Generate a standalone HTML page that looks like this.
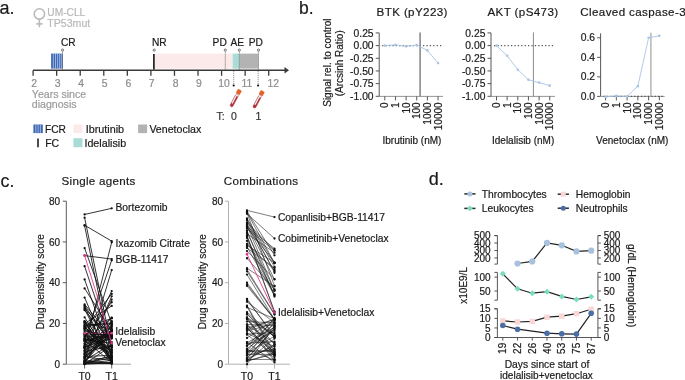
<!DOCTYPE html>
<html><head><meta charset="utf-8"><style>
html,body{margin:0;padding:0;background:#fff;}
body{width:685px;height:380px;overflow:hidden;}
svg{display:block;font-family:"Liberation Sans", sans-serif;will-change:transform;} text{stroke-linejoin:round;}
</style></head><body>
<svg width="685" height="380" viewBox="0 0 685 380">

<text x="-0.40" y="14.00" font-size="18" fill="#1a1a1a" text-anchor="start" stroke="#1a1a1a" stroke-width="0.2" >a.</text><circle cx="39.4" cy="13.9" r="5.2" fill="none" stroke="#b9b9b9" stroke-width="1.6"/><line x1="39.40" y1="19.10" x2="39.40" y2="27.20" stroke="#b9b9b9" stroke-width="1.6" /><line x1="36.20" y1="23.90" x2="42.60" y2="23.90" stroke="#b9b9b9" stroke-width="1.6" /><text x="47.30" y="16.40" font-size="10.2" fill="#b8b8b8" text-anchor="start" stroke="#b8b8b8" stroke-width="0.2" >UM-CLL</text><text x="47.30" y="26.90" font-size="10.6" fill="#b8b8b8" text-anchor="start" stroke="#b8b8b8" stroke-width="0.2" >TP53mut</text><rect x="51.1" y="53.6" width="11.6" height="15.0" fill="#3c67b5"/><line x1="53.30" y1="53.60" x2="53.30" y2="68.60" stroke="#dfe7f5" stroke-width="0.6" /><line x1="55.50" y1="53.60" x2="55.50" y2="68.60" stroke="#dfe7f5" stroke-width="0.6" /><line x1="57.60" y1="53.60" x2="57.60" y2="68.60" stroke="#dfe7f5" stroke-width="0.6" /><line x1="59.60" y1="53.60" x2="59.60" y2="68.60" stroke="#dfe7f5" stroke-width="0.6" /><line x1="61.30" y1="53.60" x2="61.30" y2="68.60" stroke="#dfe7f5" stroke-width="0.6" /><rect x="155" y="53.6" width="77.6" height="15.0" fill="#fce9e9"/><rect x="232.6" y="53.6" width="6.9" height="15.0" fill="#a9dcd6"/><rect x="239.5" y="53.6" width="18.9" height="15.0" fill="#b3b3b3"/><line x1="153.90" y1="53.90" x2="153.90" y2="69.50" stroke="#111" stroke-width="1.6" /><line x1="33.10" y1="70.20" x2="286.00" y2="70.20" stroke="#3a3a3a" stroke-width="1.5" /><path d="M284.5 67.0 L289 70.2 L284.5 73.4 Z" fill="#3a3a3a"/><line x1="33.10" y1="70.20" x2="33.10" y2="75.80" stroke="#3a3a3a" stroke-width="1.3" /><text x="34.20" y="86.80" font-size="10.4" fill="#8c8c8c" text-anchor="middle" stroke="#8c8c8c" stroke-width="0.2" >2</text><line x1="56.66" y1="70.20" x2="56.66" y2="75.80" stroke="#3a3a3a" stroke-width="1.3" /><text x="57.70" y="86.80" font-size="10.4" fill="#8c8c8c" text-anchor="middle" stroke="#8c8c8c" stroke-width="0.2" >3</text><line x1="80.22" y1="70.20" x2="80.22" y2="75.80" stroke="#3a3a3a" stroke-width="1.3" /><text x="81.10" y="86.80" font-size="10.4" fill="#8c8c8c" text-anchor="middle" stroke="#8c8c8c" stroke-width="0.2" >4</text><line x1="103.78" y1="70.20" x2="103.78" y2="75.80" stroke="#3a3a3a" stroke-width="1.3" /><text x="104.70" y="86.80" font-size="10.4" fill="#8c8c8c" text-anchor="middle" stroke="#8c8c8c" stroke-width="0.2" >5</text><line x1="127.34" y1="70.20" x2="127.34" y2="75.80" stroke="#3a3a3a" stroke-width="1.3" /><text x="128.30" y="86.80" font-size="10.4" fill="#8c8c8c" text-anchor="middle" stroke="#8c8c8c" stroke-width="0.2" >6</text><line x1="150.90" y1="70.20" x2="150.90" y2="75.80" stroke="#3a3a3a" stroke-width="1.3" /><text x="151.60" y="86.80" font-size="10.4" fill="#8c8c8c" text-anchor="middle" stroke="#8c8c8c" stroke-width="0.2" >7</text><line x1="174.46" y1="70.20" x2="174.46" y2="75.80" stroke="#3a3a3a" stroke-width="1.3" /><text x="175.70" y="86.80" font-size="10.4" fill="#8c8c8c" text-anchor="middle" stroke="#8c8c8c" stroke-width="0.2" >8</text><line x1="198.02" y1="70.20" x2="198.02" y2="75.80" stroke="#3a3a3a" stroke-width="1.3" /><text x="199.00" y="86.80" font-size="10.4" fill="#8c8c8c" text-anchor="middle" stroke="#8c8c8c" stroke-width="0.2" >9</text><line x1="221.58" y1="70.20" x2="221.58" y2="75.80" stroke="#3a3a3a" stroke-width="1.3" /><text x="224.10" y="86.80" font-size="10.4" fill="#8c8c8c" text-anchor="middle" stroke="#8c8c8c" stroke-width="0.2" >10</text><line x1="245.14" y1="70.20" x2="245.14" y2="75.80" stroke="#3a3a3a" stroke-width="1.3" /><text x="247.00" y="86.80" font-size="10.4" fill="#8c8c8c" text-anchor="middle" stroke="#8c8c8c" stroke-width="0.2" >11</text><line x1="268.70" y1="70.20" x2="268.70" y2="75.80" stroke="#3a3a3a" stroke-width="1.3" /><text x="273.30" y="86.80" font-size="10.4" fill="#8c8c8c" text-anchor="middle" stroke="#8c8c8c" stroke-width="0.2" >12</text><circle cx="62.5" cy="50.1" r="1.1" fill="#fff" stroke="#333" stroke-width="0.65"/><line x1="62.50" y1="51.60" x2="62.50" y2="70.20" stroke="#333" stroke-width="0.7" stroke-dasharray="1 1"/><circle cx="154.2" cy="50.1" r="1.1" fill="#fff" stroke="#333" stroke-width="0.65"/><circle cx="225.3" cy="50.1" r="1.1" fill="#fff" stroke="#333" stroke-width="0.65"/><line x1="225.30" y1="51.60" x2="225.30" y2="70.20" stroke="#333" stroke-width="0.7" stroke-dasharray="1 1"/><circle cx="239.3" cy="50.1" r="1.1" fill="#fff" stroke="#333" stroke-width="0.65"/><line x1="239.30" y1="51.60" x2="239.30" y2="70.20" stroke="#333" stroke-width="0.7" stroke-dasharray="1 1"/><circle cx="258.5" cy="50.1" r="1.1" fill="#fff" stroke="#333" stroke-width="0.65"/><line x1="258.50" y1="51.60" x2="258.50" y2="70.20" stroke="#333" stroke-width="0.7" stroke-dasharray="1 1"/><text x="60.90" y="46.00" font-size="10.2" fill="#1a1a1a" text-anchor="start" stroke="#1a1a1a" stroke-width="0.2" >CR</text><text x="152.00" y="46.00" font-size="10.2" fill="#1a1a1a" text-anchor="start" stroke="#1a1a1a" stroke-width="0.2" >NR</text><text x="212.60" y="46.00" font-size="10.2" fill="#1a1a1a" text-anchor="start" stroke="#1a1a1a" stroke-width="0.2" >PD</text><text x="230.40" y="46.00" font-size="10.2" fill="#1a1a1a" text-anchor="start" stroke="#1a1a1a" stroke-width="0.2" >AE</text><text x="248.80" y="46.00" font-size="10.2" fill="#1a1a1a" text-anchor="start" stroke="#1a1a1a" stroke-width="0.2" >PD</text><line x1="233.70" y1="71.20" x2="233.70" y2="84.50" stroke="#444" stroke-width="0.7" stroke-dasharray="1 1"/><circle cx="233.7" cy="85.5" r="1.1" fill="#111"/><line x1="258.10" y1="71.20" x2="258.10" y2="84.50" stroke="#444" stroke-width="0.7" stroke-dasharray="1 1"/><circle cx="258.1" cy="85.5" r="1.1" fill="#111"/><text x="31.80" y="97.90" font-size="10.6" fill="#9a9a9a" text-anchor="start" stroke="#9a9a9a" stroke-width="0.2" >Years since</text><text x="31.80" y="107.90" font-size="10.6" fill="#9a9a9a" text-anchor="start" stroke="#9a9a9a" stroke-width="0.2" >diagnosis</text><g transform="translate(231.0,106.6) rotate(28)"><rect x="-1.45" y="-14" width="2.9" height="14" rx="1.45" fill="#f7f4f4" stroke="#a8282e" stroke-width="0.55"/><path d="M0.1 -12 L1.4 -12 L1.4 -1.4 A1.4 1.4 0 0 1 -1.4 -1.4 L-1.4 -3.2 L0.1 -3.2 Z" fill="#b3303a"/><rect x="-1.6" y="-14.6" width="3.2" height="1.2" fill="#d8d0d0"/><rect x="-2.2" y="-19.0" width="4.4" height="4.8" rx="0.7" fill="#e3632a"/></g><g transform="translate(253.9,107.8) rotate(28)"><rect x="-1.45" y="-14" width="2.9" height="14" rx="1.45" fill="#f7f4f4" stroke="#a8282e" stroke-width="0.55"/><path d="M0.1 -12 L1.4 -12 L1.4 -1.4 A1.4 1.4 0 0 1 -1.4 -1.4 L-1.4 -3.2 L0.1 -3.2 Z" fill="#b3303a"/><rect x="-1.6" y="-14.6" width="3.2" height="1.2" fill="#d8d0d0"/><rect x="-2.2" y="-19.0" width="4.4" height="4.8" rx="0.7" fill="#e3632a"/></g><text x="216.50" y="119.60" font-size="10.5" fill="#333" text-anchor="start" stroke="#333" stroke-width="0.2" >T:</text><text x="231.00" y="119.60" font-size="10.5" fill="#333" text-anchor="start" stroke="#333" stroke-width="0.2" >0</text><text x="255.60" y="119.60" font-size="10.5" fill="#333" text-anchor="start" stroke="#333" stroke-width="0.2" >1</text><rect x="33.4" y="124.5" width="9.4" height="8.6" fill="#3c67b5"/><line x1="35.80" y1="124.50" x2="35.80" y2="133.10" stroke="#dfe7f5" stroke-width="0.6" /><line x1="38.10" y1="124.50" x2="38.10" y2="133.10" stroke="#dfe7f5" stroke-width="0.6" /><line x1="40.40" y1="124.50" x2="40.40" y2="133.10" stroke="#dfe7f5" stroke-width="0.6" /><text x="45.00" y="132.60" font-size="10.2" fill="#1a1a1a" text-anchor="start" stroke="#1a1a1a" stroke-width="0.2" >FCR</text><rect x="73.4" y="124.5" width="9" height="8.6" fill="#fce9e9"/><text x="85.70" y="132.60" font-size="10.8" fill="#1a1a1a" text-anchor="start" stroke="#1a1a1a" stroke-width="0.2" >Ibrutinib</text><rect x="138.1" y="124.5" width="9" height="8.6" fill="#b3b3b3"/><text x="149.40" y="132.60" font-size="10.6" fill="#1a1a1a" text-anchor="start" stroke="#1a1a1a" stroke-width="0.2" >Venetoclax</text><line x1="38.00" y1="138.50" x2="38.00" y2="147.30" stroke="#111" stroke-width="1.5" /><text x="45.20" y="146.80" font-size="10.5" fill="#1a1a1a" text-anchor="start" stroke="#1a1a1a" stroke-width="0.2" >FC</text><rect x="73.4" y="138.2" width="9" height="9" fill="#a9dcd6"/><text x="84.40" y="146.80" font-size="10.75" fill="#1a1a1a" text-anchor="start" stroke="#1a1a1a" stroke-width="0.2" >Idelalisib</text><text x="299.00" y="14.00" font-size="17.5" fill="#1a1a1a" text-anchor="start" stroke="#1a1a1a" stroke-width="0.2" >b.</text><line x1="379.20" y1="32.90" x2="379.20" y2="96.40" stroke="#444" stroke-width="0.9" /><line x1="375.70" y1="32.92" x2="379.20" y2="32.92" stroke="#444" stroke-width="0.9" /><text x="373.60" y="36.52" font-size="10.3" fill="#1a1a1a" text-anchor="end" stroke="#1a1a1a" stroke-width="0.2" >0.25</text><line x1="375.70" y1="45.60" x2="379.20" y2="45.60" stroke="#444" stroke-width="0.9" /><text x="373.60" y="49.20" font-size="10.3" fill="#1a1a1a" text-anchor="end" stroke="#1a1a1a" stroke-width="0.2" >0.00</text><line x1="375.70" y1="58.28" x2="379.20" y2="58.28" stroke="#444" stroke-width="0.9" /><text x="373.60" y="61.88" font-size="10.3" fill="#1a1a1a" text-anchor="end" stroke="#1a1a1a" stroke-width="0.2" >-0.25</text><line x1="375.70" y1="70.95" x2="379.20" y2="70.95" stroke="#444" stroke-width="0.9" /><text x="373.60" y="74.55" font-size="10.3" fill="#1a1a1a" text-anchor="end" stroke="#1a1a1a" stroke-width="0.2" >-0.50</text><line x1="375.70" y1="83.62" x2="379.20" y2="83.62" stroke="#444" stroke-width="0.9" /><text x="373.60" y="87.22" font-size="10.3" fill="#1a1a1a" text-anchor="end" stroke="#1a1a1a" stroke-width="0.2" >-0.75</text><line x1="375.70" y1="96.30" x2="379.20" y2="96.30" stroke="#444" stroke-width="0.9" /><text x="373.60" y="99.90" font-size="10.3" fill="#1a1a1a" text-anchor="end" stroke="#1a1a1a" stroke-width="0.2" >-1.00</text><line x1="379.20" y1="96.40" x2="443.00" y2="96.40" stroke="#8a8a8a" stroke-width="0.9" /><line x1="384.80" y1="96.40" x2="384.80" y2="100.40" stroke="#444" stroke-width="0.9" /><text transform="translate(388.30,102.40) rotate(-90)" font-size="10" fill="#1a1a1a" stroke="#1a1a1a" stroke-width="0.2" text-anchor="end">0</text><line x1="395.45" y1="96.40" x2="395.45" y2="100.40" stroke="#444" stroke-width="0.9" /><text transform="translate(398.95,102.40) rotate(-90)" font-size="10" fill="#1a1a1a" stroke="#1a1a1a" stroke-width="0.2" text-anchor="end">1</text><line x1="406.10" y1="96.40" x2="406.10" y2="100.40" stroke="#444" stroke-width="0.9" /><text transform="translate(409.60,102.40) rotate(-90)" font-size="10" fill="#1a1a1a" stroke="#1a1a1a" stroke-width="0.2" text-anchor="end">10</text><line x1="416.75" y1="96.40" x2="416.75" y2="100.40" stroke="#444" stroke-width="0.9" /><text transform="translate(420.25,102.40) rotate(-90)" font-size="10" fill="#1a1a1a" stroke="#1a1a1a" stroke-width="0.2" text-anchor="end">100</text><line x1="427.40" y1="96.40" x2="427.40" y2="100.40" stroke="#444" stroke-width="0.9" /><text transform="translate(430.90,102.40) rotate(-90)" font-size="10" fill="#1a1a1a" stroke="#1a1a1a" stroke-width="0.2" text-anchor="end">1000</text><line x1="438.05" y1="96.40" x2="438.05" y2="100.40" stroke="#444" stroke-width="0.9" /><text transform="translate(441.55,102.40) rotate(-90)" font-size="10" fill="#1a1a1a" stroke="#1a1a1a" stroke-width="0.2" text-anchor="end">10000</text><line x1="382.20" y1="45.60" x2="442.00" y2="45.60" stroke="#5a5a5a" stroke-width="1.1" stroke-dasharray="1.3 2.1"/><line x1="420.10" y1="32.40" x2="420.10" y2="96.40" stroke="#8c8c8c" stroke-width="1.6" /><path d="M384.80 45.60 L395.45 44.84 L406.10 46.36 L416.75 45.09 L427.40 50.42 L438.05 63.09" fill="none" stroke="#a9c4e4" stroke-width="0.9"/><circle cx="384.80" cy="45.60" r="1.3" fill="#a9c4e4"/><circle cx="395.45" cy="44.84" r="1.3" fill="#a9c4e4"/><circle cx="406.10" cy="46.36" r="1.3" fill="#a9c4e4"/><circle cx="416.75" cy="45.09" r="1.3" fill="#a9c4e4"/><circle cx="427.40" cy="50.42" r="1.3" fill="#a9c4e4"/><circle cx="438.05" cy="63.09" r="1.3" fill="#a9c4e4"/><text x="376.60" y="16.20" font-size="11.6" fill="#1a1a1a" text-anchor="start" stroke="#1a1a1a" stroke-width="0.2" letter-spacing="0.38">BTK (pY223)</text><text x="382.50" y="143.80" font-size="10" fill="#1a1a1a" text-anchor="start" stroke="#1a1a1a" stroke-width="0.2" >Ibrutinib (nM)</text><line x1="491.00" y1="32.90" x2="491.00" y2="96.40" stroke="#444" stroke-width="0.9" /><line x1="487.50" y1="32.92" x2="491.00" y2="32.92" stroke="#444" stroke-width="0.9" /><text x="485.40" y="36.52" font-size="10.3" fill="#1a1a1a" text-anchor="end" stroke="#1a1a1a" stroke-width="0.2" >0.25</text><line x1="487.50" y1="45.60" x2="491.00" y2="45.60" stroke="#444" stroke-width="0.9" /><text x="485.40" y="49.20" font-size="10.3" fill="#1a1a1a" text-anchor="end" stroke="#1a1a1a" stroke-width="0.2" >0.00</text><line x1="487.50" y1="58.28" x2="491.00" y2="58.28" stroke="#444" stroke-width="0.9" /><text x="485.40" y="61.88" font-size="10.3" fill="#1a1a1a" text-anchor="end" stroke="#1a1a1a" stroke-width="0.2" >-0.25</text><line x1="487.50" y1="70.95" x2="491.00" y2="70.95" stroke="#444" stroke-width="0.9" /><text x="485.40" y="74.55" font-size="10.3" fill="#1a1a1a" text-anchor="end" stroke="#1a1a1a" stroke-width="0.2" >-0.50</text><line x1="487.50" y1="83.62" x2="491.00" y2="83.62" stroke="#444" stroke-width="0.9" /><text x="485.40" y="87.22" font-size="10.3" fill="#1a1a1a" text-anchor="end" stroke="#1a1a1a" stroke-width="0.2" >-0.75</text><line x1="487.50" y1="96.30" x2="491.00" y2="96.30" stroke="#444" stroke-width="0.9" /><text x="485.40" y="99.90" font-size="10.3" fill="#1a1a1a" text-anchor="end" stroke="#1a1a1a" stroke-width="0.2" >-1.00</text><line x1="491.00" y1="96.40" x2="555.00" y2="96.40" stroke="#8a8a8a" stroke-width="0.9" /><line x1="496.50" y1="96.40" x2="496.50" y2="100.40" stroke="#444" stroke-width="0.9" /><text transform="translate(500.00,102.40) rotate(-90)" font-size="10" fill="#1a1a1a" stroke="#1a1a1a" stroke-width="0.2" text-anchor="end">0</text><line x1="507.15" y1="96.40" x2="507.15" y2="100.40" stroke="#444" stroke-width="0.9" /><text transform="translate(510.65,102.40) rotate(-90)" font-size="10" fill="#1a1a1a" stroke="#1a1a1a" stroke-width="0.2" text-anchor="end">1</text><line x1="517.80" y1="96.40" x2="517.80" y2="100.40" stroke="#444" stroke-width="0.9" /><text transform="translate(521.30,102.40) rotate(-90)" font-size="10" fill="#1a1a1a" stroke="#1a1a1a" stroke-width="0.2" text-anchor="end">10</text><line x1="528.45" y1="96.40" x2="528.45" y2="100.40" stroke="#444" stroke-width="0.9" /><text transform="translate(531.95,102.40) rotate(-90)" font-size="10" fill="#1a1a1a" stroke="#1a1a1a" stroke-width="0.2" text-anchor="end">100</text><line x1="539.10" y1="96.40" x2="539.10" y2="100.40" stroke="#444" stroke-width="0.9" /><text transform="translate(542.60,102.40) rotate(-90)" font-size="10" fill="#1a1a1a" stroke="#1a1a1a" stroke-width="0.2" text-anchor="end">1000</text><line x1="549.75" y1="96.40" x2="549.75" y2="100.40" stroke="#444" stroke-width="0.9" /><text transform="translate(553.25,102.40) rotate(-90)" font-size="10" fill="#1a1a1a" stroke="#1a1a1a" stroke-width="0.2" text-anchor="end">10000</text><line x1="494.00" y1="45.60" x2="554.00" y2="45.60" stroke="#5a5a5a" stroke-width="1.1" stroke-dasharray="1.3 2.1"/><line x1="533.40" y1="32.40" x2="533.40" y2="96.40" stroke="#8a8a8a" stroke-width="1.0" /><path d="M496.50 45.60 L507.15 55.74 L517.80 69.68 L528.45 79.82 L539.10 82.61 L549.75 85.65" fill="none" stroke="#a9c4e4" stroke-width="0.9"/><circle cx="496.50" cy="45.60" r="1.3" fill="#a9c4e4"/><circle cx="507.15" cy="55.74" r="1.3" fill="#a9c4e4"/><circle cx="517.80" cy="69.68" r="1.3" fill="#a9c4e4"/><circle cx="528.45" cy="79.82" r="1.3" fill="#a9c4e4"/><circle cx="539.10" cy="82.61" r="1.3" fill="#a9c4e4"/><circle cx="549.75" cy="85.65" r="1.3" fill="#a9c4e4"/><text x="487.50" y="16.20" font-size="11.6" fill="#1a1a1a" text-anchor="start" stroke="#1a1a1a" stroke-width="0.2" letter-spacing="0.38">AKT (pS473)</text><text x="492.00" y="143.80" font-size="10" fill="#1a1a1a" text-anchor="start" stroke="#1a1a1a" stroke-width="0.2" >Idelalisib (nM)</text><line x1="600.60" y1="33.30" x2="600.60" y2="96.40" stroke="#444" stroke-width="0.9" /><line x1="597.10" y1="37.80" x2="600.60" y2="37.80" stroke="#444" stroke-width="0.9" /><text x="595.00" y="41.40" font-size="10.3" fill="#1a1a1a" text-anchor="end" stroke="#1a1a1a" stroke-width="0.2" >0.6</text><line x1="597.10" y1="57.33" x2="600.60" y2="57.33" stroke="#444" stroke-width="0.9" /><text x="595.00" y="60.93" font-size="10.3" fill="#1a1a1a" text-anchor="end" stroke="#1a1a1a" stroke-width="0.2" >0.4</text><line x1="597.10" y1="76.87" x2="600.60" y2="76.87" stroke="#444" stroke-width="0.9" /><text x="595.00" y="80.47" font-size="10.3" fill="#1a1a1a" text-anchor="end" stroke="#1a1a1a" stroke-width="0.2" >0.2</text><line x1="597.10" y1="96.40" x2="600.60" y2="96.40" stroke="#444" stroke-width="0.9" /><text x="595.00" y="100.00" font-size="10.3" fill="#1a1a1a" text-anchor="end" stroke="#1a1a1a" stroke-width="0.2" >0.0</text><line x1="600.60" y1="96.40" x2="664.70" y2="96.40" stroke="#8a8a8a" stroke-width="0.9" /><line x1="605.60" y1="96.40" x2="605.60" y2="100.40" stroke="#444" stroke-width="0.9" /><text transform="translate(609.10,102.40) rotate(-90)" font-size="10" fill="#1a1a1a" stroke="#1a1a1a" stroke-width="0.2" text-anchor="end">0</text><line x1="616.35" y1="96.40" x2="616.35" y2="100.40" stroke="#444" stroke-width="0.9" /><text transform="translate(619.85,102.40) rotate(-90)" font-size="10" fill="#1a1a1a" stroke="#1a1a1a" stroke-width="0.2" text-anchor="end">1</text><line x1="627.10" y1="96.40" x2="627.10" y2="100.40" stroke="#444" stroke-width="0.9" /><text transform="translate(630.60,102.40) rotate(-90)" font-size="10" fill="#1a1a1a" stroke="#1a1a1a" stroke-width="0.2" text-anchor="end">10</text><line x1="637.85" y1="96.40" x2="637.85" y2="100.40" stroke="#444" stroke-width="0.9" /><text transform="translate(641.35,102.40) rotate(-90)" font-size="10" fill="#1a1a1a" stroke="#1a1a1a" stroke-width="0.2" text-anchor="end">100</text><line x1="648.60" y1="96.40" x2="648.60" y2="100.40" stroke="#444" stroke-width="0.9" /><text transform="translate(652.10,102.40) rotate(-90)" font-size="10" fill="#1a1a1a" stroke="#1a1a1a" stroke-width="0.2" text-anchor="end">1000</text><line x1="659.35" y1="96.40" x2="659.35" y2="100.40" stroke="#444" stroke-width="0.9" /><text transform="translate(662.85,102.40) rotate(-90)" font-size="10" fill="#1a1a1a" stroke="#1a1a1a" stroke-width="0.2" text-anchor="end">10000</text><line x1="603.60" y1="96.40" x2="663.70" y2="96.40" stroke="#5a5a5a" stroke-width="1.1" stroke-dasharray="1.3 2.1"/><line x1="650.90" y1="32.80" x2="650.90" y2="96.40" stroke="#aaaaaa" stroke-width="1.3" /><path d="M605.60 96.89 L616.35 95.91 L627.10 96.40 L637.85 86.14 L648.60 37.80 L659.35 35.84" fill="none" stroke="#a9c4e4" stroke-width="0.9"/><circle cx="605.60" cy="96.89" r="1.3" fill="#a9c4e4"/><circle cx="616.35" cy="95.91" r="1.3" fill="#a9c4e4"/><circle cx="627.10" cy="96.40" r="1.3" fill="#a9c4e4"/><circle cx="637.85" cy="86.14" r="1.3" fill="#a9c4e4"/><circle cx="648.60" cy="37.80" r="1.3" fill="#a9c4e4"/><circle cx="659.35" cy="35.84" r="1.3" fill="#a9c4e4"/><text x="580.30" y="16.20" font-size="11.6" fill="#1a1a1a" text-anchor="start" stroke="#1a1a1a" stroke-width="0.2" letter-spacing="0.38">Cleaved caspase-3</text><text x="596.10" y="143.80" font-size="10" fill="#1a1a1a" text-anchor="start" stroke="#1a1a1a" stroke-width="0.2" >Venetoclax (nM)</text><text transform="translate(330.8,62.6) rotate(-90)" font-size="10" fill="#1a1a1a" stroke="#1a1a1a" stroke-width="0.2" text-anchor="middle">Signal rel. to control</text><text transform="translate(343.0,63.3) rotate(-90)" font-size="10" fill="#1a1a1a" stroke="#1a1a1a" stroke-width="0.2" text-anchor="middle">(Arcsinh Ratio)</text><text x="0.50" y="187.10" font-size="17.8" fill="#1a1a1a" text-anchor="start" stroke="#1a1a1a" stroke-width="0.2" >c.</text><line x1="66.30" y1="201.20" x2="66.30" y2="364.20" stroke="#4a4a4a" stroke-width="0.9" /><line x1="62.70" y1="364.20" x2="66.30" y2="364.20" stroke="#4a4a4a" stroke-width="0.9" /><text x="60.10" y="367.80" font-size="10" fill="#1a1a1a" text-anchor="end" stroke="#1a1a1a" stroke-width="0.2" >0</text><line x1="62.70" y1="323.45" x2="66.30" y2="323.45" stroke="#4a4a4a" stroke-width="0.9" /><text x="60.10" y="327.05" font-size="10" fill="#1a1a1a" text-anchor="end" stroke="#1a1a1a" stroke-width="0.2" >20</text><line x1="62.70" y1="282.70" x2="66.30" y2="282.70" stroke="#4a4a4a" stroke-width="0.9" /><text x="60.10" y="286.30" font-size="10" fill="#1a1a1a" text-anchor="end" stroke="#1a1a1a" stroke-width="0.2" >40</text><line x1="62.70" y1="241.95" x2="66.30" y2="241.95" stroke="#4a4a4a" stroke-width="0.9" /><text x="60.10" y="245.55" font-size="10" fill="#1a1a1a" text-anchor="end" stroke="#1a1a1a" stroke-width="0.2" >60</text><line x1="62.70" y1="201.20" x2="66.30" y2="201.20" stroke="#4a4a4a" stroke-width="0.9" /><text x="60.10" y="204.80" font-size="10" fill="#1a1a1a" text-anchor="end" stroke="#1a1a1a" stroke-width="0.2" >80</text><line x1="66.30" y1="364.20" x2="131.00" y2="364.20" stroke="#9a9a9a" stroke-width="0.9" /><line x1="84.60" y1="364.20" x2="84.60" y2="368.50" stroke="#4a4a4a" stroke-width="0.9" /><text x="84.60" y="379.60" font-size="10.5" fill="#1a1a1a" text-anchor="middle" stroke="#1a1a1a" stroke-width="0.2" >T0</text><line x1="111.70" y1="364.20" x2="111.70" y2="368.50" stroke="#4a4a4a" stroke-width="0.9" /><text x="111.70" y="379.60" font-size="10.5" fill="#1a1a1a" text-anchor="middle" stroke="#1a1a1a" stroke-width="0.2" >T1</text><text transform="translate(43.80,281.7) rotate(-90)" font-size="10" fill="#1a1a1a" stroke="#1a1a1a" stroke-width="0.2" text-anchor="middle">Drug sensitivity score</text><text x="61.50" y="185.00" font-size="11.6" fill="#1a1a1a" text-anchor="start" stroke="#1a1a1a" stroke-width="0.2" letter-spacing="0.3">Single agents</text><g stroke="#111" stroke-width="0.85"><line x1="84.6" y1="214.44" x2="111.7" y2="208.33"/><line x1="84.6" y1="217.70" x2="111.7" y2="347.90"/><line x1="84.6" y1="225.24" x2="111.7" y2="241.13"/><line x1="84.6" y1="225.65" x2="111.7" y2="358.09"/><line x1="84.6" y1="248.06" x2="111.7" y2="323.45"/><line x1="84.6" y1="255.60" x2="111.7" y2="259.06"/><line x1="84.6" y1="347.90" x2="111.7" y2="242.36"/><line x1="84.6" y1="339.75" x2="111.7" y2="260.29"/><line x1="84.6" y1="266.20" x2="111.7" y2="347.70"/><line x1="84.6" y1="279.44" x2="111.7" y2="356.52"/><line x1="84.6" y1="288.40" x2="111.7" y2="331.04"/><line x1="84.6" y1="297.57" x2="111.7" y2="360.51"/><line x1="84.6" y1="304.30" x2="111.7" y2="336.90"/><line x1="84.6" y1="305.52" x2="111.7" y2="345.57"/><line x1="84.6" y1="306.74" x2="111.7" y2="361.25"/><line x1="84.6" y1="307.96" x2="111.7" y2="338.35"/><line x1="84.6" y1="309.19" x2="111.7" y2="362.29"/><line x1="84.6" y1="310.21" x2="111.7" y2="342.11"/><line x1="84.6" y1="317.34" x2="111.7" y2="360.64"/><line x1="84.6" y1="360.32" x2="111.7" y2="270.07"/><line x1="84.6" y1="346.04" x2="111.7" y2="291.05"/><line x1="84.6" y1="328.82" x2="111.7" y2="293.91"/><line x1="84.6" y1="358.90" x2="111.7" y2="296.35"/><line x1="84.6" y1="354.65" x2="111.7" y2="299.61"/><line x1="84.6" y1="337.35" x2="111.7" y2="302.26"/><line x1="84.6" y1="323.65" x2="111.7" y2="305.93"/><line x1="84.6" y1="338.92" x2="111.7" y2="346.76"/><line x1="84.6" y1="321.43" x2="111.7" y2="363.01"/><line x1="84.6" y1="326.59" x2="111.7" y2="352.51"/><line x1="84.6" y1="357.88" x2="111.7" y2="333.48"/><line x1="84.6" y1="350.69" x2="111.7" y2="321.53"/><line x1="84.6" y1="356.28" x2="111.7" y2="336.26"/><line x1="84.6" y1="336.21" x2="111.7" y2="349.96"/><line x1="84.6" y1="340.21" x2="111.7" y2="362.47"/><line x1="84.6" y1="361.59" x2="111.7" y2="356.57"/><line x1="84.6" y1="334.39" x2="111.7" y2="350.66"/><line x1="84.6" y1="350.44" x2="111.7" y2="336.02"/><line x1="84.6" y1="344.35" x2="111.7" y2="352.00"/><line x1="84.6" y1="329.40" x2="111.7" y2="350.12"/><line x1="84.6" y1="353.51" x2="111.7" y2="336.69"/><line x1="84.6" y1="341.19" x2="111.7" y2="317.64"/><line x1="84.6" y1="332.25" x2="111.7" y2="355.65"/><line x1="84.6" y1="321.26" x2="111.7" y2="360.39"/><line x1="84.6" y1="345.88" x2="111.7" y2="325.35"/><line x1="84.6" y1="357.54" x2="111.7" y2="326.26"/><line x1="84.6" y1="362.48" x2="111.7" y2="330.96"/><line x1="84.6" y1="330.71" x2="111.7" y2="336.77"/><line x1="84.6" y1="325.85" x2="111.7" y2="361.52"/><line x1="84.6" y1="333.74" x2="111.7" y2="335.49"/><line x1="84.6" y1="338.80" x2="111.7" y2="343.57"/><line x1="84.6" y1="327.40" x2="111.7" y2="347.11"/><line x1="84.6" y1="343.43" x2="111.7" y2="331.22"/><line x1="84.6" y1="361.54" x2="111.7" y2="328.88"/><line x1="84.6" y1="335.85" x2="111.7" y2="337.68"/><line x1="84.6" y1="328.19" x2="111.7" y2="352.76"/><line x1="84.6" y1="347.30" x2="111.7" y2="330.94"/><line x1="84.6" y1="363.21" x2="111.7" y2="321.14"/><line x1="84.6" y1="356.84" x2="111.7" y2="360.43"/><line x1="84.6" y1="361.62" x2="111.7" y2="324.63"/><line x1="84.6" y1="358.53" x2="111.7" y2="330.18"/><line x1="84.6" y1="347.07" x2="111.7" y2="317.88"/><line x1="84.6" y1="360.67" x2="111.7" y2="343.97"/><line x1="84.6" y1="340.13" x2="111.7" y2="335.63"/><line x1="84.6" y1="328.31" x2="111.7" y2="318.38"/><line x1="84.6" y1="352.00" x2="111.7" y2="345.86"/><line x1="84.6" y1="348.48" x2="111.7" y2="327.26"/><line x1="84.6" y1="322.25" x2="111.7" y2="359.03"/><line x1="84.6" y1="356.48" x2="111.7" y2="355.34"/><line x1="84.6" y1="353.98" x2="111.7" y2="329.90"/><line x1="84.6" y1="338.39" x2="111.7" y2="353.85"/><line x1="84.6" y1="364.02" x2="111.7" y2="345.66"/><line x1="84.6" y1="348.02" x2="111.7" y2="334.20"/><line x1="84.6" y1="322.45" x2="111.7" y2="329.57"/><line x1="84.6" y1="341.62" x2="111.7" y2="334.08"/><line x1="84.6" y1="334.58" x2="111.7" y2="358.08"/><line x1="84.6" y1="324.79" x2="111.7" y2="323.88"/><line x1="84.6" y1="325.89" x2="111.7" y2="322.72"/><line x1="84.6" y1="347.01" x2="111.7" y2="338.62"/><line x1="84.6" y1="363.15" x2="111.7" y2="357.74"/><line x1="84.6" y1="363.57" x2="111.7" y2="363.51"/><line x1="84.6" y1="362.07" x2="111.7" y2="362.55"/><line x1="84.6" y1="360.74" x2="111.7" y2="363.66"/><line x1="84.6" y1="364.20" x2="111.7" y2="362.66"/><line x1="84.6" y1="363.17" x2="111.7" y2="360.50"/><line x1="84.6" y1="363.94" x2="111.7" y2="355.29"/></g><g fill="#111"><circle cx="84.6" cy="214.44" r="1.15"/><circle cx="111.7" cy="208.33" r="1.15"/><circle cx="84.6" cy="217.70" r="1.15"/><circle cx="111.7" cy="347.90" r="1.15"/><circle cx="84.6" cy="225.24" r="1.15"/><circle cx="111.7" cy="241.13" r="1.15"/><circle cx="84.6" cy="225.65" r="1.15"/><circle cx="111.7" cy="358.09" r="1.15"/><circle cx="84.6" cy="248.06" r="1.15"/><circle cx="111.7" cy="323.45" r="1.15"/><circle cx="84.6" cy="255.60" r="1.15"/><circle cx="111.7" cy="259.06" r="1.15"/><circle cx="84.6" cy="347.90" r="1.15"/><circle cx="111.7" cy="242.36" r="1.15"/><circle cx="84.6" cy="339.75" r="1.15"/><circle cx="111.7" cy="260.29" r="1.15"/><circle cx="84.6" cy="266.20" r="1.15"/><circle cx="111.7" cy="347.70" r="1.15"/><circle cx="84.6" cy="279.44" r="1.15"/><circle cx="111.7" cy="356.52" r="1.15"/><circle cx="84.6" cy="288.40" r="1.15"/><circle cx="111.7" cy="331.04" r="1.15"/><circle cx="84.6" cy="297.57" r="1.15"/><circle cx="111.7" cy="360.51" r="1.15"/><circle cx="84.6" cy="304.30" r="1.15"/><circle cx="111.7" cy="336.90" r="1.15"/><circle cx="84.6" cy="305.52" r="1.15"/><circle cx="111.7" cy="345.57" r="1.15"/><circle cx="84.6" cy="306.74" r="1.15"/><circle cx="111.7" cy="361.25" r="1.15"/><circle cx="84.6" cy="307.96" r="1.15"/><circle cx="111.7" cy="338.35" r="1.15"/><circle cx="84.6" cy="309.19" r="1.15"/><circle cx="111.7" cy="362.29" r="1.15"/><circle cx="84.6" cy="310.21" r="1.15"/><circle cx="111.7" cy="342.11" r="1.15"/><circle cx="84.6" cy="317.34" r="1.15"/><circle cx="111.7" cy="360.64" r="1.15"/><circle cx="84.6" cy="360.32" r="1.15"/><circle cx="111.7" cy="270.07" r="1.15"/><circle cx="84.6" cy="346.04" r="1.15"/><circle cx="111.7" cy="291.05" r="1.15"/><circle cx="84.6" cy="328.82" r="1.15"/><circle cx="111.7" cy="293.91" r="1.15"/><circle cx="84.6" cy="358.90" r="1.15"/><circle cx="111.7" cy="296.35" r="1.15"/><circle cx="84.6" cy="354.65" r="1.15"/><circle cx="111.7" cy="299.61" r="1.15"/><circle cx="84.6" cy="337.35" r="1.15"/><circle cx="111.7" cy="302.26" r="1.15"/><circle cx="84.6" cy="323.65" r="1.15"/><circle cx="111.7" cy="305.93" r="1.15"/><circle cx="84.6" cy="338.92" r="1.15"/><circle cx="111.7" cy="346.76" r="1.15"/><circle cx="84.6" cy="321.43" r="1.15"/><circle cx="111.7" cy="363.01" r="1.15"/><circle cx="84.6" cy="326.59" r="1.15"/><circle cx="111.7" cy="352.51" r="1.15"/><circle cx="84.6" cy="357.88" r="1.15"/><circle cx="111.7" cy="333.48" r="1.15"/><circle cx="84.6" cy="350.69" r="1.15"/><circle cx="111.7" cy="321.53" r="1.15"/><circle cx="84.6" cy="356.28" r="1.15"/><circle cx="111.7" cy="336.26" r="1.15"/><circle cx="84.6" cy="336.21" r="1.15"/><circle cx="111.7" cy="349.96" r="1.15"/><circle cx="84.6" cy="340.21" r="1.15"/><circle cx="111.7" cy="362.47" r="1.15"/><circle cx="84.6" cy="361.59" r="1.15"/><circle cx="111.7" cy="356.57" r="1.15"/><circle cx="84.6" cy="334.39" r="1.15"/><circle cx="111.7" cy="350.66" r="1.15"/><circle cx="84.6" cy="350.44" r="1.15"/><circle cx="111.7" cy="336.02" r="1.15"/><circle cx="84.6" cy="344.35" r="1.15"/><circle cx="111.7" cy="352.00" r="1.15"/><circle cx="84.6" cy="329.40" r="1.15"/><circle cx="111.7" cy="350.12" r="1.15"/><circle cx="84.6" cy="353.51" r="1.15"/><circle cx="111.7" cy="336.69" r="1.15"/><circle cx="84.6" cy="341.19" r="1.15"/><circle cx="111.7" cy="317.64" r="1.15"/><circle cx="84.6" cy="332.25" r="1.15"/><circle cx="111.7" cy="355.65" r="1.15"/><circle cx="84.6" cy="321.26" r="1.15"/><circle cx="111.7" cy="360.39" r="1.15"/><circle cx="84.6" cy="345.88" r="1.15"/><circle cx="111.7" cy="325.35" r="1.15"/><circle cx="84.6" cy="357.54" r="1.15"/><circle cx="111.7" cy="326.26" r="1.15"/><circle cx="84.6" cy="362.48" r="1.15"/><circle cx="111.7" cy="330.96" r="1.15"/><circle cx="84.6" cy="330.71" r="1.15"/><circle cx="111.7" cy="336.77" r="1.15"/><circle cx="84.6" cy="325.85" r="1.15"/><circle cx="111.7" cy="361.52" r="1.15"/><circle cx="84.6" cy="333.74" r="1.15"/><circle cx="111.7" cy="335.49" r="1.15"/><circle cx="84.6" cy="338.80" r="1.15"/><circle cx="111.7" cy="343.57" r="1.15"/><circle cx="84.6" cy="327.40" r="1.15"/><circle cx="111.7" cy="347.11" r="1.15"/><circle cx="84.6" cy="343.43" r="1.15"/><circle cx="111.7" cy="331.22" r="1.15"/><circle cx="84.6" cy="361.54" r="1.15"/><circle cx="111.7" cy="328.88" r="1.15"/><circle cx="84.6" cy="335.85" r="1.15"/><circle cx="111.7" cy="337.68" r="1.15"/><circle cx="84.6" cy="328.19" r="1.15"/><circle cx="111.7" cy="352.76" r="1.15"/><circle cx="84.6" cy="347.30" r="1.15"/><circle cx="111.7" cy="330.94" r="1.15"/><circle cx="84.6" cy="363.21" r="1.15"/><circle cx="111.7" cy="321.14" r="1.15"/><circle cx="84.6" cy="356.84" r="1.15"/><circle cx="111.7" cy="360.43" r="1.15"/><circle cx="84.6" cy="361.62" r="1.15"/><circle cx="111.7" cy="324.63" r="1.15"/><circle cx="84.6" cy="358.53" r="1.15"/><circle cx="111.7" cy="330.18" r="1.15"/><circle cx="84.6" cy="347.07" r="1.15"/><circle cx="111.7" cy="317.88" r="1.15"/><circle cx="84.6" cy="360.67" r="1.15"/><circle cx="111.7" cy="343.97" r="1.15"/><circle cx="84.6" cy="340.13" r="1.15"/><circle cx="111.7" cy="335.63" r="1.15"/><circle cx="84.6" cy="328.31" r="1.15"/><circle cx="111.7" cy="318.38" r="1.15"/><circle cx="84.6" cy="352.00" r="1.15"/><circle cx="111.7" cy="345.86" r="1.15"/><circle cx="84.6" cy="348.48" r="1.15"/><circle cx="111.7" cy="327.26" r="1.15"/><circle cx="84.6" cy="322.25" r="1.15"/><circle cx="111.7" cy="359.03" r="1.15"/><circle cx="84.6" cy="356.48" r="1.15"/><circle cx="111.7" cy="355.34" r="1.15"/><circle cx="84.6" cy="353.98" r="1.15"/><circle cx="111.7" cy="329.90" r="1.15"/><circle cx="84.6" cy="338.39" r="1.15"/><circle cx="111.7" cy="353.85" r="1.15"/><circle cx="84.6" cy="364.02" r="1.15"/><circle cx="111.7" cy="345.66" r="1.15"/><circle cx="84.6" cy="348.02" r="1.15"/><circle cx="111.7" cy="334.20" r="1.15"/><circle cx="84.6" cy="322.45" r="1.15"/><circle cx="111.7" cy="329.57" r="1.15"/><circle cx="84.6" cy="341.62" r="1.15"/><circle cx="111.7" cy="334.08" r="1.15"/><circle cx="84.6" cy="334.58" r="1.15"/><circle cx="111.7" cy="358.08" r="1.15"/><circle cx="84.6" cy="324.79" r="1.15"/><circle cx="111.7" cy="323.88" r="1.15"/><circle cx="84.6" cy="325.89" r="1.15"/><circle cx="111.7" cy="322.72" r="1.15"/><circle cx="84.6" cy="347.01" r="1.15"/><circle cx="111.7" cy="338.62" r="1.15"/><circle cx="84.6" cy="363.15" r="1.15"/><circle cx="111.7" cy="357.74" r="1.15"/><circle cx="84.6" cy="363.57" r="1.15"/><circle cx="111.7" cy="363.51" r="1.15"/><circle cx="84.6" cy="362.07" r="1.15"/><circle cx="111.7" cy="362.55" r="1.15"/><circle cx="84.6" cy="360.74" r="1.15"/><circle cx="111.7" cy="363.66" r="1.15"/><circle cx="84.6" cy="364.20" r="1.15"/><circle cx="111.7" cy="362.66" r="1.15"/><circle cx="84.6" cy="363.17" r="1.15"/><circle cx="111.7" cy="360.50" r="1.15"/><circle cx="84.6" cy="363.94" r="1.15"/><circle cx="111.7" cy="355.29" r="1.15"/></g><line x1="84.60" y1="255.40" x2="111.70" y2="343.21" stroke="#e0338a" stroke-width="0.85" /><circle cx="84.6" cy="255.40" r="1.3" fill="#e0338a"/><circle cx="111.7" cy="343.21" r="1.3" fill="#e0338a"/><line x1="84.60" y1="333.23" x2="111.70" y2="333.23" stroke="#e0338a" stroke-width="0.7" stroke-dasharray="2 1.2"/><circle cx="84.6" cy="333.23" r="1.3" fill="#e0338a"/><circle cx="111.7" cy="333.23" r="1.3" fill="#e0338a"/><text x="115.50" y="210.80" font-size="10.3" fill="#1a1a1a" text-anchor="start" stroke="#1a1a1a" stroke-width="0.2" >Bortezomib</text><text x="115.50" y="246.70" font-size="10.3" fill="#1a1a1a" text-anchor="start" stroke="#1a1a1a" stroke-width="0.2" >Ixazomib Citrate</text><text x="115.50" y="263.10" font-size="10.3" fill="#1a1a1a" text-anchor="start" stroke="#1a1a1a" stroke-width="0.2" >BGB-11417</text><text x="115.20" y="334.50" font-size="10.3" fill="#1a1a1a" text-anchor="start" stroke="#1a1a1a" stroke-width="0.2" >Idelalisib</text><text x="115.20" y="346.30" font-size="10.3" fill="#1a1a1a" text-anchor="start" stroke="#1a1a1a" stroke-width="0.2" >Venetoclax</text><line x1="228.50" y1="201.20" x2="228.50" y2="364.20" stroke="#a8a8a8" stroke-width="0.9" /><line x1="224.90" y1="364.20" x2="228.50" y2="364.20" stroke="#a8a8a8" stroke-width="0.9" /><text x="223.10" y="367.80" font-size="10" fill="#1a1a1a" text-anchor="end" stroke="#1a1a1a" stroke-width="0.2" >0</text><line x1="224.90" y1="323.45" x2="228.50" y2="323.45" stroke="#a8a8a8" stroke-width="0.9" /><text x="223.10" y="327.05" font-size="10" fill="#1a1a1a" text-anchor="end" stroke="#1a1a1a" stroke-width="0.2" >20</text><line x1="224.90" y1="282.70" x2="228.50" y2="282.70" stroke="#a8a8a8" stroke-width="0.9" /><text x="223.10" y="286.30" font-size="10" fill="#1a1a1a" text-anchor="end" stroke="#1a1a1a" stroke-width="0.2" >40</text><line x1="224.90" y1="241.95" x2="228.50" y2="241.95" stroke="#a8a8a8" stroke-width="0.9" /><text x="223.10" y="245.55" font-size="10" fill="#1a1a1a" text-anchor="end" stroke="#1a1a1a" stroke-width="0.2" >60</text><line x1="224.90" y1="201.20" x2="228.50" y2="201.20" stroke="#a8a8a8" stroke-width="0.9" /><text x="223.10" y="204.80" font-size="10" fill="#1a1a1a" text-anchor="end" stroke="#1a1a1a" stroke-width="0.2" >80</text><line x1="228.50" y1="364.20" x2="290.00" y2="364.20" stroke="#a8a8a8" stroke-width="0.9" /><line x1="247.00" y1="364.20" x2="247.00" y2="368.50" stroke="#a8a8a8" stroke-width="0.9" /><text x="247.00" y="379.60" font-size="10.5" fill="#1a1a1a" text-anchor="middle" stroke="#1a1a1a" stroke-width="0.2" >T0</text><line x1="274.50" y1="364.20" x2="274.50" y2="368.50" stroke="#a8a8a8" stroke-width="0.9" /><text x="274.50" y="379.60" font-size="10.5" fill="#1a1a1a" text-anchor="middle" stroke="#1a1a1a" stroke-width="0.2" >T1</text><text transform="translate(206.00,281.7) rotate(-90)" font-size="10" fill="#1a1a1a" stroke="#1a1a1a" stroke-width="0.2" text-anchor="middle">Drug sensitivity score</text><text x="223.80" y="185.00" font-size="11.6" fill="#1a1a1a" text-anchor="start" stroke="#1a1a1a" stroke-width="0.2" letter-spacing="0.3">Combinations</text><g stroke="#111" stroke-width="0.55"><line x1="247.0" y1="210.37" x2="274.5" y2="217.09"/><line x1="247.0" y1="213.83" x2="274.5" y2="238.49"/><line x1="247.0" y1="211.39" x2="274.5" y2="255.34"/><line x1="247.0" y1="212.41" x2="274.5" y2="262.92"/><line x1="247.0" y1="213.02" x2="274.5" y2="285.81"/><line x1="247.0" y1="218.52" x2="274.5" y2="263.28"/><line x1="247.0" y1="219.54" x2="274.5" y2="266.88"/><line x1="247.0" y1="220.56" x2="274.5" y2="272.76"/><line x1="247.0" y1="222.59" x2="274.5" y2="250.18"/><line x1="247.0" y1="223.61" x2="274.5" y2="271.20"/><line x1="247.0" y1="224.63" x2="274.5" y2="279.43"/><line x1="247.0" y1="225.65" x2="274.5" y2="290.42"/><line x1="247.0" y1="226.67" x2="274.5" y2="248.72"/><line x1="247.0" y1="227.69" x2="274.5" y2="262.53"/><line x1="247.0" y1="228.71" x2="274.5" y2="250.55"/><line x1="247.0" y1="230.74" x2="274.5" y2="296.53"/><line x1="247.0" y1="232.17" x2="274.5" y2="290.86"/><line x1="247.0" y1="233.80" x2="274.5" y2="252.66"/><line x1="247.0" y1="235.23" x2="274.5" y2="311.56"/><line x1="247.0" y1="236.65" x2="274.5" y2="311.92"/><line x1="247.0" y1="238.08" x2="274.5" y2="294.35"/><line x1="247.0" y1="240.93" x2="274.5" y2="294.86"/><line x1="247.0" y1="243.99" x2="274.5" y2="269.91"/><line x1="247.0" y1="245.41" x2="274.5" y2="262.63"/><line x1="247.0" y1="246.84" x2="274.5" y2="295.44"/><line x1="247.0" y1="248.06" x2="274.5" y2="268.00"/><line x1="247.0" y1="251.12" x2="274.5" y2="279.05"/><line x1="247.0" y1="258.25" x2="274.5" y2="289.34"/><line x1="247.0" y1="268.23" x2="274.5" y2="286.37"/><line x1="247.0" y1="269.46" x2="274.5" y2="314.11"/><line x1="247.0" y1="271.29" x2="274.5" y2="314.52"/><line x1="247.0" y1="274.55" x2="274.5" y2="319.38"/><line x1="247.0" y1="282.70" x2="274.5" y2="319.38"/><line x1="247.0" y1="284.33" x2="274.5" y2="319.38"/><line x1="247.0" y1="285.96" x2="274.5" y2="319.38"/><line x1="247.0" y1="298.80" x2="274.5" y2="337.51"/><line x1="247.0" y1="300.02" x2="274.5" y2="335.27"/><line x1="247.0" y1="301.85" x2="274.5" y2="322.73"/><line x1="247.0" y1="305.72" x2="274.5" y2="352.81"/><line x1="247.0" y1="306.54" x2="274.5" y2="355.63"/><line x1="247.0" y1="307.35" x2="274.5" y2="318.70"/><line x1="247.0" y1="312.04" x2="274.5" y2="337.27"/><line x1="247.0" y1="313.26" x2="274.5" y2="344.48"/><line x1="247.0" y1="314.49" x2="274.5" y2="336.89"/><line x1="247.0" y1="333.16" x2="274.5" y2="346.78"/><line x1="247.0" y1="342.77" x2="274.5" y2="327.12"/><line x1="247.0" y1="351.16" x2="274.5" y2="317.84"/><line x1="247.0" y1="317.45" x2="274.5" y2="354.99"/><line x1="247.0" y1="317.54" x2="274.5" y2="334.12"/><line x1="247.0" y1="324.83" x2="274.5" y2="342.96"/><line x1="247.0" y1="331.03" x2="274.5" y2="323.59"/><line x1="247.0" y1="349.43" x2="274.5" y2="359.98"/><line x1="247.0" y1="353.44" x2="274.5" y2="336.02"/><line x1="247.0" y1="350.65" x2="274.5" y2="351.56"/><line x1="247.0" y1="360.91" x2="274.5" y2="338.53"/><line x1="247.0" y1="328.29" x2="274.5" y2="319.09"/><line x1="247.0" y1="345.44" x2="274.5" y2="330.78"/><line x1="247.0" y1="324.53" x2="274.5" y2="359.33"/><line x1="247.0" y1="346.09" x2="274.5" y2="324.16"/><line x1="247.0" y1="319.30" x2="274.5" y2="349.95"/><line x1="247.0" y1="324.49" x2="274.5" y2="325.49"/><line x1="247.0" y1="364.17" x2="274.5" y2="325.88"/><line x1="247.0" y1="354.37" x2="274.5" y2="354.33"/><line x1="247.0" y1="321.54" x2="274.5" y2="322.86"/><line x1="247.0" y1="342.18" x2="274.5" y2="362.39"/><line x1="247.0" y1="318.26" x2="274.5" y2="335.92"/><line x1="247.0" y1="345.58" x2="274.5" y2="320.13"/><line x1="247.0" y1="360.78" x2="274.5" y2="354.22"/><line x1="247.0" y1="334.70" x2="274.5" y2="355.31"/><line x1="247.0" y1="327.72" x2="274.5" y2="354.21"/><line x1="247.0" y1="351.56" x2="274.5" y2="350.31"/><line x1="247.0" y1="360.12" x2="274.5" y2="344.45"/><line x1="247.0" y1="348.61" x2="274.5" y2="329.55"/><line x1="247.0" y1="319.02" x2="274.5" y2="356.98"/><line x1="247.0" y1="328.68" x2="274.5" y2="352.10"/><line x1="247.0" y1="358.67" x2="274.5" y2="345.72"/><line x1="247.0" y1="352.65" x2="274.5" y2="326.55"/><line x1="247.0" y1="359.46" x2="274.5" y2="359.50"/><line x1="247.0" y1="361.39" x2="274.5" y2="352.51"/><line x1="247.0" y1="326.85" x2="274.5" y2="360.76"/><line x1="247.0" y1="355.87" x2="274.5" y2="321.63"/><line x1="247.0" y1="337.99" x2="274.5" y2="319.67"/><line x1="247.0" y1="343.23" x2="274.5" y2="341.53"/><line x1="247.0" y1="355.26" x2="274.5" y2="348.78"/><line x1="247.0" y1="329.90" x2="274.5" y2="319.25"/><line x1="247.0" y1="358.06" x2="274.5" y2="328.54"/><line x1="247.0" y1="334.03" x2="274.5" y2="332.62"/><line x1="247.0" y1="358.74" x2="274.5" y2="327.99"/></g><g fill="#111"><circle cx="247.0" cy="210.37" r="1.15"/><circle cx="274.5" cy="217.09" r="1.15"/><circle cx="247.0" cy="213.83" r="1.15"/><circle cx="274.5" cy="238.49" r="1.15"/><circle cx="247.0" cy="211.39" r="1.15"/><circle cx="274.5" cy="255.34" r="1.15"/><circle cx="247.0" cy="212.41" r="1.15"/><circle cx="274.5" cy="262.92" r="1.15"/><circle cx="247.0" cy="213.02" r="1.15"/><circle cx="274.5" cy="285.81" r="1.15"/><circle cx="247.0" cy="218.52" r="1.15"/><circle cx="274.5" cy="263.28" r="1.15"/><circle cx="247.0" cy="219.54" r="1.15"/><circle cx="274.5" cy="266.88" r="1.15"/><circle cx="247.0" cy="220.56" r="1.15"/><circle cx="274.5" cy="272.76" r="1.15"/><circle cx="247.0" cy="222.59" r="1.15"/><circle cx="274.5" cy="250.18" r="1.15"/><circle cx="247.0" cy="223.61" r="1.15"/><circle cx="274.5" cy="271.20" r="1.15"/><circle cx="247.0" cy="224.63" r="1.15"/><circle cx="274.5" cy="279.43" r="1.15"/><circle cx="247.0" cy="225.65" r="1.15"/><circle cx="274.5" cy="290.42" r="1.15"/><circle cx="247.0" cy="226.67" r="1.15"/><circle cx="274.5" cy="248.72" r="1.15"/><circle cx="247.0" cy="227.69" r="1.15"/><circle cx="274.5" cy="262.53" r="1.15"/><circle cx="247.0" cy="228.71" r="1.15"/><circle cx="274.5" cy="250.55" r="1.15"/><circle cx="247.0" cy="230.74" r="1.15"/><circle cx="274.5" cy="296.53" r="1.15"/><circle cx="247.0" cy="232.17" r="1.15"/><circle cx="274.5" cy="290.86" r="1.15"/><circle cx="247.0" cy="233.80" r="1.15"/><circle cx="274.5" cy="252.66" r="1.15"/><circle cx="247.0" cy="235.23" r="1.15"/><circle cx="274.5" cy="311.56" r="1.15"/><circle cx="247.0" cy="236.65" r="1.15"/><circle cx="274.5" cy="311.92" r="1.15"/><circle cx="247.0" cy="238.08" r="1.15"/><circle cx="274.5" cy="294.35" r="1.15"/><circle cx="247.0" cy="240.93" r="1.15"/><circle cx="274.5" cy="294.86" r="1.15"/><circle cx="247.0" cy="243.99" r="1.15"/><circle cx="274.5" cy="269.91" r="1.15"/><circle cx="247.0" cy="245.41" r="1.15"/><circle cx="274.5" cy="262.63" r="1.15"/><circle cx="247.0" cy="246.84" r="1.15"/><circle cx="274.5" cy="295.44" r="1.15"/><circle cx="247.0" cy="248.06" r="1.15"/><circle cx="274.5" cy="268.00" r="1.15"/><circle cx="247.0" cy="251.12" r="1.15"/><circle cx="274.5" cy="279.05" r="1.15"/><circle cx="247.0" cy="258.25" r="1.15"/><circle cx="274.5" cy="289.34" r="1.15"/><circle cx="247.0" cy="268.23" r="1.15"/><circle cx="274.5" cy="286.37" r="1.15"/><circle cx="247.0" cy="269.46" r="1.15"/><circle cx="274.5" cy="314.11" r="1.15"/><circle cx="247.0" cy="271.29" r="1.15"/><circle cx="274.5" cy="314.52" r="1.15"/><circle cx="247.0" cy="274.55" r="1.15"/><circle cx="274.5" cy="319.38" r="1.15"/><circle cx="247.0" cy="282.70" r="1.15"/><circle cx="274.5" cy="319.38" r="1.15"/><circle cx="247.0" cy="284.33" r="1.15"/><circle cx="274.5" cy="319.38" r="1.15"/><circle cx="247.0" cy="285.96" r="1.15"/><circle cx="274.5" cy="319.38" r="1.15"/><circle cx="247.0" cy="298.80" r="1.15"/><circle cx="274.5" cy="337.51" r="1.15"/><circle cx="247.0" cy="300.02" r="1.15"/><circle cx="274.5" cy="335.27" r="1.15"/><circle cx="247.0" cy="301.85" r="1.15"/><circle cx="274.5" cy="322.73" r="1.15"/><circle cx="247.0" cy="305.72" r="1.15"/><circle cx="274.5" cy="352.81" r="1.15"/><circle cx="247.0" cy="306.54" r="1.15"/><circle cx="274.5" cy="355.63" r="1.15"/><circle cx="247.0" cy="307.35" r="1.15"/><circle cx="274.5" cy="318.70" r="1.15"/><circle cx="247.0" cy="312.04" r="1.15"/><circle cx="274.5" cy="337.27" r="1.15"/><circle cx="247.0" cy="313.26" r="1.15"/><circle cx="274.5" cy="344.48" r="1.15"/><circle cx="247.0" cy="314.49" r="1.15"/><circle cx="274.5" cy="336.89" r="1.15"/><circle cx="247.0" cy="333.16" r="1.15"/><circle cx="274.5" cy="346.78" r="1.15"/><circle cx="247.0" cy="342.77" r="1.15"/><circle cx="274.5" cy="327.12" r="1.15"/><circle cx="247.0" cy="351.16" r="1.15"/><circle cx="274.5" cy="317.84" r="1.15"/><circle cx="247.0" cy="317.45" r="1.15"/><circle cx="274.5" cy="354.99" r="1.15"/><circle cx="247.0" cy="317.54" r="1.15"/><circle cx="274.5" cy="334.12" r="1.15"/><circle cx="247.0" cy="324.83" r="1.15"/><circle cx="274.5" cy="342.96" r="1.15"/><circle cx="247.0" cy="331.03" r="1.15"/><circle cx="274.5" cy="323.59" r="1.15"/><circle cx="247.0" cy="349.43" r="1.15"/><circle cx="274.5" cy="359.98" r="1.15"/><circle cx="247.0" cy="353.44" r="1.15"/><circle cx="274.5" cy="336.02" r="1.15"/><circle cx="247.0" cy="350.65" r="1.15"/><circle cx="274.5" cy="351.56" r="1.15"/><circle cx="247.0" cy="360.91" r="1.15"/><circle cx="274.5" cy="338.53" r="1.15"/><circle cx="247.0" cy="328.29" r="1.15"/><circle cx="274.5" cy="319.09" r="1.15"/><circle cx="247.0" cy="345.44" r="1.15"/><circle cx="274.5" cy="330.78" r="1.15"/><circle cx="247.0" cy="324.53" r="1.15"/><circle cx="274.5" cy="359.33" r="1.15"/><circle cx="247.0" cy="346.09" r="1.15"/><circle cx="274.5" cy="324.16" r="1.15"/><circle cx="247.0" cy="319.30" r="1.15"/><circle cx="274.5" cy="349.95" r="1.15"/><circle cx="247.0" cy="324.49" r="1.15"/><circle cx="274.5" cy="325.49" r="1.15"/><circle cx="247.0" cy="364.17" r="1.15"/><circle cx="274.5" cy="325.88" r="1.15"/><circle cx="247.0" cy="354.37" r="1.15"/><circle cx="274.5" cy="354.33" r="1.15"/><circle cx="247.0" cy="321.54" r="1.15"/><circle cx="274.5" cy="322.86" r="1.15"/><circle cx="247.0" cy="342.18" r="1.15"/><circle cx="274.5" cy="362.39" r="1.15"/><circle cx="247.0" cy="318.26" r="1.15"/><circle cx="274.5" cy="335.92" r="1.15"/><circle cx="247.0" cy="345.58" r="1.15"/><circle cx="274.5" cy="320.13" r="1.15"/><circle cx="247.0" cy="360.78" r="1.15"/><circle cx="274.5" cy="354.22" r="1.15"/><circle cx="247.0" cy="334.70" r="1.15"/><circle cx="274.5" cy="355.31" r="1.15"/><circle cx="247.0" cy="327.72" r="1.15"/><circle cx="274.5" cy="354.21" r="1.15"/><circle cx="247.0" cy="351.56" r="1.15"/><circle cx="274.5" cy="350.31" r="1.15"/><circle cx="247.0" cy="360.12" r="1.15"/><circle cx="274.5" cy="344.45" r="1.15"/><circle cx="247.0" cy="348.61" r="1.15"/><circle cx="274.5" cy="329.55" r="1.15"/><circle cx="247.0" cy="319.02" r="1.15"/><circle cx="274.5" cy="356.98" r="1.15"/><circle cx="247.0" cy="328.68" r="1.15"/><circle cx="274.5" cy="352.10" r="1.15"/><circle cx="247.0" cy="358.67" r="1.15"/><circle cx="274.5" cy="345.72" r="1.15"/><circle cx="247.0" cy="352.65" r="1.15"/><circle cx="274.5" cy="326.55" r="1.15"/><circle cx="247.0" cy="359.46" r="1.15"/><circle cx="274.5" cy="359.50" r="1.15"/><circle cx="247.0" cy="361.39" r="1.15"/><circle cx="274.5" cy="352.51" r="1.15"/><circle cx="247.0" cy="326.85" r="1.15"/><circle cx="274.5" cy="360.76" r="1.15"/><circle cx="247.0" cy="355.87" r="1.15"/><circle cx="274.5" cy="321.63" r="1.15"/><circle cx="247.0" cy="337.99" r="1.15"/><circle cx="274.5" cy="319.67" r="1.15"/><circle cx="247.0" cy="343.23" r="1.15"/><circle cx="274.5" cy="341.53" r="1.15"/><circle cx="247.0" cy="355.26" r="1.15"/><circle cx="274.5" cy="348.78" r="1.15"/><circle cx="247.0" cy="329.90" r="1.15"/><circle cx="274.5" cy="319.25" r="1.15"/><circle cx="247.0" cy="358.06" r="1.15"/><circle cx="274.5" cy="328.54" r="1.15"/><circle cx="247.0" cy="334.03" r="1.15"/><circle cx="274.5" cy="332.62" r="1.15"/><circle cx="247.0" cy="358.74" r="1.15"/><circle cx="274.5" cy="327.99" r="1.15"/></g><line x1="247.00" y1="254.17" x2="274.50" y2="312.45" stroke="#e0338a" stroke-width="0.85" /><circle cx="247.0" cy="254.17" r="1.3" fill="#e0338a"/><circle cx="274.5" cy="312.45" r="1.3" fill="#e0338a"/><text x="277.90" y="220.70" font-size="10.3" fill="#1a1a1a" text-anchor="start" stroke="#1a1a1a" stroke-width="0.2" >Copanlisib+BGB-11417</text><text x="277.90" y="241.70" font-size="10.3" fill="#1a1a1a" text-anchor="start" stroke="#1a1a1a" stroke-width="0.2" >Cobimetinib+Venetoclax</text><text x="277.90" y="316.00" font-size="10.3" fill="#1a1a1a" text-anchor="start" stroke="#1a1a1a" stroke-width="0.2" >Idelalisib+Venetoclax</text><text x="428.80" y="184.90" font-size="18" fill="#1a1a1a" text-anchor="start" stroke="#1a1a1a" stroke-width="0.2" >d.</text><line x1="464.30" y1="193.90" x2="475.50" y2="193.90" stroke="#2a2a2a" stroke-width="1.5" /><circle cx="469.90" cy="193.90" r="2.5" fill="#a8c2de"/><text x="481.80" y="197.80" font-size="10.25" fill="#1a1a1a" text-anchor="start" stroke="#1a1a1a" stroke-width="0.2" >Thrombocytes</text><line x1="464.30" y1="208.40" x2="475.50" y2="208.40" stroke="#2a2a2a" stroke-width="1.5" /><path d="M469.90 205.60 L472.70 208.40 L469.90 211.20 L467.10 208.40 Z" fill="#79dcc0"/><text x="481.80" y="212.30" font-size="10.25" fill="#1a1a1a" text-anchor="start" stroke="#1a1a1a" stroke-width="0.2" >Leukocytes</text><line x1="557.70" y1="194.20" x2="568.90" y2="194.20" stroke="#2a2a2a" stroke-width="1.5" /><rect x="560.80" y="191.70" width="5.00" height="5.00" fill="#fbd6d6"/><text x="575.80" y="197.80" font-size="10.25" fill="#1a1a1a" text-anchor="start" stroke="#1a1a1a" stroke-width="0.2" >Hemoglobin</text><line x1="557.70" y1="208.20" x2="568.90" y2="208.20" stroke="#2a2a2a" stroke-width="1.5" /><circle cx="563.30" cy="208.20" r="2.5" fill="#4b6ea6"/><text x="575.80" y="211.80" font-size="10.25" fill="#1a1a1a" text-anchor="start" stroke="#1a1a1a" stroke-width="0.2" >Neutrophils</text><line x1="497.40" y1="235.60" x2="497.40" y2="264.10" stroke="#444" stroke-width="0.9" /><line x1="497.40" y1="235.60" x2="494.40" y2="235.60" stroke="#444" stroke-width="0.9" /><line x1="497.40" y1="264.10" x2="494.40" y2="264.10" stroke="#444" stroke-width="0.9" /><line x1="497.40" y1="235.60" x2="494.40" y2="235.60" stroke="#444" stroke-width="0.9" /><text x="490.60" y="239.20" font-size="10" fill="#1a1a1a" text-anchor="end" stroke="#1a1a1a" stroke-width="0.2" >500</text><line x1="497.40" y1="243.07" x2="494.40" y2="243.07" stroke="#444" stroke-width="0.9" /><text x="490.60" y="246.67" font-size="10" fill="#1a1a1a" text-anchor="end" stroke="#1a1a1a" stroke-width="0.2" >400</text><line x1="497.40" y1="250.54" x2="494.40" y2="250.54" stroke="#444" stroke-width="0.9" /><text x="490.60" y="254.14" font-size="10" fill="#1a1a1a" text-anchor="end" stroke="#1a1a1a" stroke-width="0.2" >300</text><line x1="497.40" y1="258.01" x2="494.40" y2="258.01" stroke="#444" stroke-width="0.9" /><text x="490.60" y="261.61" font-size="10" fill="#1a1a1a" text-anchor="end" stroke="#1a1a1a" stroke-width="0.2" >200</text><line x1="597.90" y1="235.60" x2="597.90" y2="264.10" stroke="#444" stroke-width="0.9" /><line x1="597.90" y1="235.60" x2="600.90" y2="235.60" stroke="#444" stroke-width="0.9" /><line x1="597.90" y1="264.10" x2="600.90" y2="264.10" stroke="#444" stroke-width="0.9" /><line x1="597.90" y1="235.60" x2="600.90" y2="235.60" stroke="#444" stroke-width="0.9" /><text x="603.70" y="239.20" font-size="10" fill="#1a1a1a" text-anchor="start" stroke="#1a1a1a" stroke-width="0.2" >500</text><line x1="597.90" y1="243.07" x2="600.90" y2="243.07" stroke="#444" stroke-width="0.9" /><text x="603.70" y="246.67" font-size="10" fill="#1a1a1a" text-anchor="start" stroke="#1a1a1a" stroke-width="0.2" >400</text><line x1="597.90" y1="250.54" x2="600.90" y2="250.54" stroke="#444" stroke-width="0.9" /><text x="603.70" y="254.14" font-size="10" fill="#1a1a1a" text-anchor="start" stroke="#1a1a1a" stroke-width="0.2" >300</text><line x1="597.90" y1="258.01" x2="600.90" y2="258.01" stroke="#444" stroke-width="0.9" /><text x="603.70" y="261.61" font-size="10" fill="#1a1a1a" text-anchor="start" stroke="#1a1a1a" stroke-width="0.2" >200</text><line x1="497.40" y1="272.40" x2="497.40" y2="300.20" stroke="#444" stroke-width="0.9" /><line x1="497.40" y1="272.40" x2="494.40" y2="272.40" stroke="#444" stroke-width="0.9" /><line x1="497.40" y1="300.20" x2="494.40" y2="300.20" stroke="#444" stroke-width="0.9" /><line x1="497.40" y1="277.10" x2="494.40" y2="277.10" stroke="#444" stroke-width="0.9" /><text x="490.60" y="280.70" font-size="10" fill="#1a1a1a" text-anchor="end" stroke="#1a1a1a" stroke-width="0.2" >100</text><line x1="497.40" y1="291.00" x2="494.40" y2="291.00" stroke="#444" stroke-width="0.9" /><text x="490.60" y="294.60" font-size="10" fill="#1a1a1a" text-anchor="end" stroke="#1a1a1a" stroke-width="0.2" >50</text><line x1="597.90" y1="272.40" x2="597.90" y2="300.20" stroke="#444" stroke-width="0.9" /><line x1="597.90" y1="272.40" x2="600.90" y2="272.40" stroke="#444" stroke-width="0.9" /><line x1="597.90" y1="300.20" x2="600.90" y2="300.20" stroke="#444" stroke-width="0.9" /><line x1="597.90" y1="277.10" x2="600.90" y2="277.10" stroke="#444" stroke-width="0.9" /><text x="603.70" y="280.70" font-size="10" fill="#1a1a1a" text-anchor="start" stroke="#1a1a1a" stroke-width="0.2" >100</text><line x1="597.90" y1="291.00" x2="600.90" y2="291.00" stroke="#444" stroke-width="0.9" /><text x="603.70" y="294.60" font-size="10" fill="#1a1a1a" text-anchor="start" stroke="#1a1a1a" stroke-width="0.2" >50</text><line x1="497.40" y1="308.80" x2="497.40" y2="337.50" stroke="#444" stroke-width="0.9" /><line x1="497.40" y1="308.80" x2="494.40" y2="308.80" stroke="#444" stroke-width="0.9" /><line x1="497.40" y1="337.50" x2="494.40" y2="337.50" stroke="#444" stroke-width="0.9" /><line x1="497.40" y1="308.81" x2="494.40" y2="308.81" stroke="#444" stroke-width="0.9" /><text x="490.60" y="312.41" font-size="10" fill="#1a1a1a" text-anchor="end" stroke="#1a1a1a" stroke-width="0.2" >15</text><line x1="497.40" y1="318.37" x2="494.40" y2="318.37" stroke="#444" stroke-width="0.9" /><text x="490.60" y="321.97" font-size="10" fill="#1a1a1a" text-anchor="end" stroke="#1a1a1a" stroke-width="0.2" >10</text><line x1="497.40" y1="327.94" x2="494.40" y2="327.94" stroke="#444" stroke-width="0.9" /><text x="490.60" y="331.54" font-size="10" fill="#1a1a1a" text-anchor="end" stroke="#1a1a1a" stroke-width="0.2" >5</text><line x1="497.40" y1="337.50" x2="494.40" y2="337.50" stroke="#444" stroke-width="0.9" /><text x="490.60" y="341.10" font-size="10" fill="#1a1a1a" text-anchor="end" stroke="#1a1a1a" stroke-width="0.2" >0</text><line x1="597.90" y1="308.80" x2="597.90" y2="337.50" stroke="#444" stroke-width="0.9" /><line x1="597.90" y1="308.80" x2="600.90" y2="308.80" stroke="#444" stroke-width="0.9" /><line x1="597.90" y1="337.50" x2="600.90" y2="337.50" stroke="#444" stroke-width="0.9" /><line x1="597.90" y1="308.81" x2="600.90" y2="308.81" stroke="#444" stroke-width="0.9" /><text x="603.70" y="312.41" font-size="10" fill="#1a1a1a" text-anchor="start" stroke="#1a1a1a" stroke-width="0.2" >15</text><line x1="597.90" y1="318.37" x2="600.90" y2="318.37" stroke="#444" stroke-width="0.9" /><text x="603.70" y="321.97" font-size="10" fill="#1a1a1a" text-anchor="start" stroke="#1a1a1a" stroke-width="0.2" >10</text><line x1="597.90" y1="327.94" x2="600.90" y2="327.94" stroke="#444" stroke-width="0.9" /><text x="603.70" y="331.54" font-size="10" fill="#1a1a1a" text-anchor="start" stroke="#1a1a1a" stroke-width="0.2" >5</text><line x1="597.90" y1="337.50" x2="600.90" y2="337.50" stroke="#444" stroke-width="0.9" /><text x="603.70" y="341.10" font-size="10" fill="#1a1a1a" text-anchor="start" stroke="#1a1a1a" stroke-width="0.2" >0</text><line x1="497.40" y1="337.50" x2="597.90" y2="337.50" stroke="#444" stroke-width="0.9" /><line x1="502.80" y1="337.50" x2="502.80" y2="340.60" stroke="#444" stroke-width="0.9" /><text transform="translate(506.40,342.8) rotate(-90)" font-size="10" fill="#1a1a1a" stroke="#1a1a1a" stroke-width="0.2" text-anchor="end">19</text><line x1="517.53" y1="337.50" x2="517.53" y2="340.60" stroke="#444" stroke-width="0.9" /><text transform="translate(521.13,342.8) rotate(-90)" font-size="10" fill="#1a1a1a" stroke="#1a1a1a" stroke-width="0.2" text-anchor="end">22</text><line x1="532.26" y1="337.50" x2="532.26" y2="340.60" stroke="#444" stroke-width="0.9" /><text transform="translate(535.86,342.8) rotate(-90)" font-size="10" fill="#1a1a1a" stroke="#1a1a1a" stroke-width="0.2" text-anchor="end">26</text><line x1="546.99" y1="337.50" x2="546.99" y2="340.60" stroke="#444" stroke-width="0.9" /><text transform="translate(550.59,342.8) rotate(-90)" font-size="10" fill="#1a1a1a" stroke="#1a1a1a" stroke-width="0.2" text-anchor="end">40</text><line x1="561.72" y1="337.50" x2="561.72" y2="340.60" stroke="#444" stroke-width="0.9" /><text transform="translate(565.32,342.8) rotate(-90)" font-size="10" fill="#1a1a1a" stroke="#1a1a1a" stroke-width="0.2" text-anchor="end">53</text><line x1="576.45" y1="337.50" x2="576.45" y2="340.60" stroke="#444" stroke-width="0.9" /><text transform="translate(580.05,342.8) rotate(-90)" font-size="10" fill="#1a1a1a" stroke="#1a1a1a" stroke-width="0.2" text-anchor="end">75</text><line x1="591.18" y1="337.50" x2="591.18" y2="340.60" stroke="#444" stroke-width="0.9" /><text transform="translate(594.78,342.8) rotate(-90)" font-size="10" fill="#1a1a1a" stroke="#1a1a1a" stroke-width="0.2" text-anchor="end">87</text><text x="547.00" y="368.20" font-size="10.3" fill="#1a1a1a" text-anchor="middle" stroke="#1a1a1a" stroke-width="0.2" >Days since start of</text><text x="546.40" y="378.70" font-size="10.1" fill="#1a1a1a" text-anchor="middle" stroke="#1a1a1a" stroke-width="0.2" >idelalisib+venetoclax</text><text transform="translate(467.3,285.4) rotate(-90)" font-size="10" fill="#1a1a1a" stroke="#1a1a1a" stroke-width="0.2" text-anchor="middle">x10E9/L</text><text transform="translate(628.2,285.6) rotate(90)" font-size="10.2" fill="#1a1a1a" stroke="#1a1a1a" stroke-width="0.2" text-anchor="middle">g/dL (Hemoglobin)</text><path d="M517.53 263.50 L532.26 261.40 L546.99 242.90 L561.72 245.30 L576.45 251.40 L591.18 250.70" fill="none" stroke="#222" stroke-width="1.2"/><circle cx="517.53" cy="263.50" r="3.1" fill="#a8c2de"/><circle cx="532.26" cy="261.40" r="3.1" fill="#a8c2de"/><circle cx="546.99" cy="242.90" r="3.1" fill="#a8c2de"/><circle cx="561.72" cy="245.30" r="3.1" fill="#a8c2de"/><circle cx="576.45" cy="251.40" r="3.1" fill="#a8c2de"/><circle cx="591.18" cy="250.70" r="3.1" fill="#a8c2de"/><path d="M502.80 273.80 L517.53 288.80 L532.26 293.20 L546.99 291.70 L561.72 296.40 L576.45 299.50 L591.18 296.80" fill="none" stroke="#222" stroke-width="1.2"/><path d="M502.80 270.80 L505.80 273.80 L502.80 276.80 L499.80 273.80 Z" fill="#79dcc0"/><path d="M517.53 285.80 L520.53 288.80 L517.53 291.80 L514.53 288.80 Z" fill="#79dcc0"/><path d="M532.26 290.20 L535.26 293.20 L532.26 296.20 L529.26 293.20 Z" fill="#79dcc0"/><path d="M546.99 288.70 L549.99 291.70 L546.99 294.70 L543.99 291.70 Z" fill="#79dcc0"/><path d="M561.72 293.40 L564.72 296.40 L561.72 299.40 L558.72 296.40 Z" fill="#79dcc0"/><path d="M576.45 296.50 L579.45 299.50 L576.45 302.50 L573.45 299.50 Z" fill="#79dcc0"/><path d="M591.18 293.80 L594.18 296.80 L591.18 299.80 L588.18 296.80 Z" fill="#79dcc0"/><path d="M502.80 320.90 L517.53 322.00 L532.26 321.40 L546.99 317.20 L561.72 316.20 L576.45 313.70 L591.18 309.20" fill="none" stroke="#222" stroke-width="1.2"/><rect x="500.10" y="318.20" width="5.40" height="5.40" fill="#fbd6d6"/><rect x="514.83" y="319.30" width="5.40" height="5.40" fill="#fbd6d6"/><rect x="529.56" y="318.70" width="5.40" height="5.40" fill="#fbd6d6"/><rect x="544.29" y="314.50" width="5.40" height="5.40" fill="#fbd6d6"/><rect x="559.02" y="313.50" width="5.40" height="5.40" fill="#fbd6d6"/><rect x="573.75" y="311.00" width="5.40" height="5.40" fill="#fbd6d6"/><rect x="588.48" y="306.50" width="5.40" height="5.40" fill="#fbd6d6"/><path d="M502.80 325.50 L517.53 329.20 L546.99 333.20 L561.72 333.80 L576.45 334.10 L591.18 313.30" fill="none" stroke="#222" stroke-width="1.2"/><circle cx="502.80" cy="325.50" r="2.8" fill="#4b6ea6"/><circle cx="517.53" cy="329.20" r="2.8" fill="#4b6ea6"/><circle cx="546.99" cy="333.20" r="2.8" fill="#4b6ea6"/><circle cx="561.72" cy="333.80" r="2.8" fill="#4b6ea6"/><circle cx="576.45" cy="334.10" r="2.8" fill="#4b6ea6"/><circle cx="591.18" cy="313.30" r="2.8" fill="#4b6ea6"/>
</svg>
</body></html>
